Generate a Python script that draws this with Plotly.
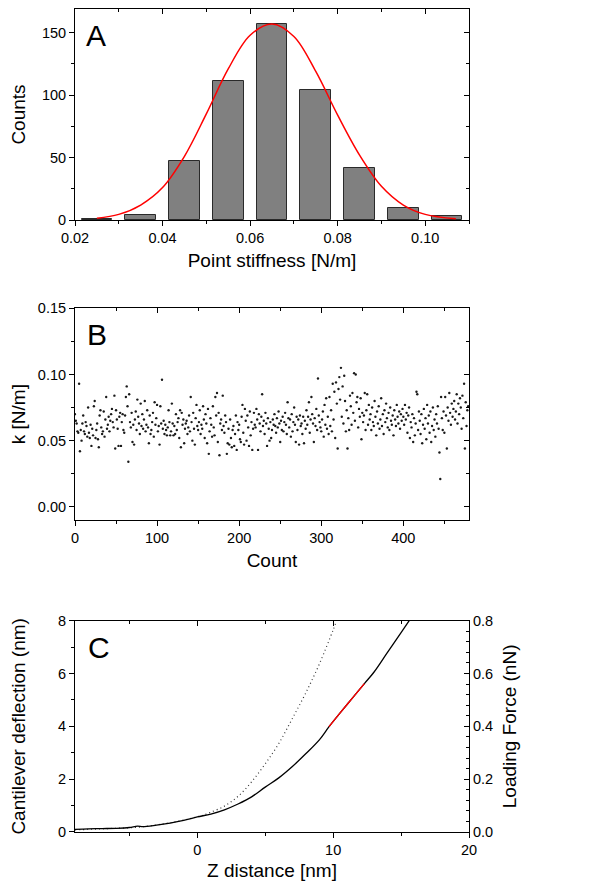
import plotly.graph_objects as go

# ---------------- Panel A: histogram of point stiffness ----------------
bin_centers = [0.025, 0.035, 0.045, 0.055, 0.065, 0.075, 0.085, 0.095, 0.105]
bin_counts = [1, 4, 47, 111, 157, 104, 42, 10, 3]
bar_width = 0.007

fit_x = [0.025, 0.030, 0.035, 0.040, 0.045, 0.050, 0.055, 0.060, 0.065,
         0.070, 0.075, 0.080, 0.085, 0.090, 0.095, 0.100, 0.107]
fit_y = [1.5, 4.5, 12, 26, 51, 85, 121, 148, 157,
         147, 119, 84, 52, 27, 12, 4.5, 1]

# ---------------- Panel B: stiffness vs count ----------------
k_values = [
    0.070, 0.065, 0.063, 0.057, 0.056, 0.093, 0.042, 0.058, 0.050, 0.063, 0.069, 0.057, 0.055, 0.064, 0.061, 0.053, 0.075, 0.056, 0.052, 0.062,
    0.046, 0.059, 0.054, 0.076, 0.080, 0.052, 0.058, 0.063, 0.051, 0.045, 0.069, 0.073, 0.060, 0.055, 0.057, 0.072, 0.053, 0.066, 0.083, 0.059,
    0.062, 0.068, 0.057, 0.065, 0.070, 0.074, 0.064, 0.060, 0.084, 0.044, 0.073, 0.066, 0.059, 0.046, 0.068, 0.071, 0.046, 0.064, 0.070, 0.058,
    0.056, 0.069, 0.083, 0.091, 0.076, 0.034, 0.085, 0.064, 0.060, 0.071, 0.049, 0.062, 0.047, 0.066, 0.072, 0.058, 0.081, 0.068, 0.063, 0.055,
    0.078, 0.061, 0.070, 0.059, 0.066, 0.080, 0.057, 0.062, 0.073, 0.060, 0.048, 0.069, 0.055, 0.058, 0.064, 0.071, 0.053, 0.079, 0.062, 0.067,
    0.077, 0.057, 0.061, 0.047, 0.076, 0.063, 0.096, 0.059, 0.065, 0.055, 0.062, 0.058, 0.054, 0.060, 0.073, 0.064, 0.054, 0.057, 0.078, 0.063,
    0.054, 0.061, 0.055, 0.070, 0.058, 0.064, 0.067, 0.052, 0.073, 0.045, 0.071, 0.062, 0.066, 0.048, 0.059, 0.063, 0.065, 0.055, 0.060, 0.069,
    0.057, 0.083, 0.064, 0.050, 0.071, 0.059, 0.047, 0.067, 0.077, 0.061, 0.058, 0.064, 0.073, 0.055, 0.062, 0.059, 0.076, 0.066, 0.052, 0.070,
    0.063, 0.048, 0.074, 0.040, 0.057, 0.067, 0.062, 0.053, 0.076, 0.060, 0.054, 0.083, 0.069, 0.086, 0.049, 0.071, 0.039, 0.063, 0.066, 0.058,
    0.084, 0.061, 0.056, 0.069, 0.064, 0.040, 0.048, 0.059, 0.047, 0.066, 0.052, 0.045, 0.058, 0.061, 0.046, 0.055, 0.069, 0.043, 0.064, 0.058,
    0.062, 0.051, 0.049, 0.068, 0.077, 0.056, 0.047, 0.074, 0.065, 0.050, 0.069, 0.060, 0.046, 0.072, 0.054, 0.064, 0.043, 0.059, 0.071, 0.062,
    0.060, 0.074, 0.066, 0.043, 0.070, 0.063, 0.057, 0.068, 0.085, 0.061, 0.065, 0.055, 0.071, 0.063, 0.046, 0.067, 0.059, 0.050, 0.064, 0.052,
    0.058, 0.066, 0.062, 0.070, 0.061, 0.056, 0.067, 0.060, 0.072, 0.063, 0.049, 0.065, 0.058, 0.068, 0.057, 0.064, 0.071, 0.062, 0.055, 0.079,
    0.067, 0.060, 0.066, 0.053, 0.070, 0.057, 0.064, 0.075, 0.062, 0.049, 0.068, 0.058, 0.066, 0.047, 0.069, 0.061, 0.063, 0.055, 0.068, 0.048,
    0.065, 0.059, 0.073, 0.062, 0.068, 0.079, 0.056, 0.066, 0.083, 0.070, 0.063, 0.049, 0.067, 0.061, 0.074, 0.058, 0.097, 0.069, 0.064, 0.060,
    0.057, 0.066, 0.072, 0.053, 0.077, 0.062, 0.082, 0.059, 0.068, 0.055, 0.083, 0.061, 0.073, 0.057, 0.093, 0.066, 0.087, 0.052, 0.094, 0.078,
    0.044, 0.089, 0.098, 0.081, 0.105, 0.068, 0.091, 0.063, 0.099, 0.080, 0.057, 0.073, 0.044, 0.067, 0.058, 0.084, 0.076, 0.062, 0.086, 0.071,
    0.101, 0.065, 0.100, 0.079, 0.083, 0.060, 0.074, 0.068, 0.082, 0.051, 0.071, 0.064, 0.069, 0.086, 0.058, 0.073, 0.085, 0.062, 0.077, 0.066,
    0.070, 0.058, 0.075, 0.064, 0.061, 0.080, 0.068, 0.054, 0.072, 0.063, 0.076, 0.059, 0.066, 0.082, 0.061, 0.070, 0.055, 0.073, 0.064, 0.078,
    0.067, 0.060, 0.071, 0.058, 0.075, 0.065, 0.062, 0.069, 0.054, 0.073, 0.066, 0.061, 0.077, 0.068, 0.063, 0.072, 0.059, 0.070, 0.065, 0.074,
    0.068, 0.062, 0.077, 0.066, 0.071, 0.056, 0.069, 0.075, 0.052, 0.064, 0.060, 0.070, 0.049, 0.067, 0.054, 0.063, 0.087, 0.085, 0.058, 0.072,
    0.065, 0.055, 0.070, 0.048, 0.062, 0.074, 0.059, 0.067, 0.051, 0.077, 0.063, 0.069, 0.056, 0.072, 0.049, 0.061, 0.075, 0.058, 0.066, 0.053,
    0.070, 0.063, 0.076, 0.059, 0.041, 0.021, 0.083, 0.067, 0.058, 0.072, 0.056, 0.083, 0.069, 0.044, 0.075, 0.065, 0.086, 0.071, 0.062, 0.078,
    0.068, 0.074, 0.080, 0.066, 0.072, 0.085, 0.063, 0.078, 0.070, 0.082, 0.075, 0.059, 0.084, 0.067, 0.093, 0.044, 0.079, 0.061, 0.073, 0.076,
]
count_index = list(range(len(k_values)))

# ---------------- Panel C: deflection curves ----------------
z_solid = [-9.0, -8.0, -7.0, -6.0, -5.0, -4.4, -4.0, -3.0, -2.0, -1.0, 0.0, 1.0, 2.0,
           3.0, 4.0, 5.0, 6.0, 7.0, 8.0, 9.0, 9.7, 10.5, 11.4, 12.3, 13.0, 14.0, 15.0, 15.6]
d_solid = [0.10, 0.12, 0.13, 0.14, 0.17, 0.22, 0.20, 0.26, 0.34, 0.44, 0.57, 0.68, 0.84,
           1.06, 1.33, 1.70, 2.05, 2.48, 2.97, 3.50, 3.99, 4.50, 5.06, 5.62, 6.05, 6.80, 7.55, 8.0]
fit_start, fit_end = 9.7, 12.3

z_dotted = [-9.0, -8.0, -7.0, -6.0, -5.0, -4.0, -3.0, -2.0, -1.0, 0.0, 0.5, 1.0, 2.0,
            3.0, 4.0, 5.0, 6.0, 7.0, 8.0, 9.0, 10.0, 10.25]
d_dotted = [0.08, 0.10, 0.12, 0.14, 0.16, 0.20, 0.27, 0.35, 0.45, 0.58, 0.65, 0.75, 0.98,
            1.35, 1.90, 2.58, 3.35, 4.30, 5.28, 6.38, 7.65, 8.0]

FONT = "Liberation Sans, Arial, Helvetica, sans-serif"
TICKFONT = dict(family=FONT, size=14.5, color="black")
TITLEFONT = dict(family=FONT, size=19, color="black")

fig = go.Figure()

# Panel A traces
fig.add_trace(go.Bar(x=bin_centers, y=bin_counts, width=bar_width,
                     marker=dict(color="#808080", line=dict(color="#2a2a2a", width=1)),
                     xaxis="x", yaxis="y", showlegend=False))
fig.add_trace(go.Scatter(x=fit_x, y=fit_y, mode="lines", line=dict(color="red", width=1.5, shape="spline"),
                         xaxis="x", yaxis="y", showlegend=False))
fig.add_trace(go.Scatter(x=[], y=[], xaxis="x4", yaxis="y4", showlegend=False, hoverinfo="skip"))

# Panel B traces
fig.add_trace(go.Scatter(x=count_index, y=k_values, mode="markers",
                         marker=dict(color="#1a1a1a", size=2.4),
                         xaxis="x2", yaxis="y2", showlegend=False))
fig.add_trace(go.Scatter(x=[], y=[], xaxis="x5", yaxis="y5", showlegend=False, hoverinfo="skip"))

# Panel C traces
fig.add_trace(go.Scatter(x=z_dotted, y=d_dotted, mode="lines",
                         line=dict(color="#333333", width=1.2, dash="1px,3px", shape="spline"),
                         xaxis="x3", yaxis="y3", showlegend=False))
fig.add_trace(go.Scatter(x=z_solid, y=d_solid, mode="lines",
                         line=dict(color="black", width=1.3, shape="spline"),
                         xaxis="x3", yaxis="y3", showlegend=False))
fit_idx = [i for i, z in enumerate(z_solid) if fit_start <= z <= fit_end]
fig.add_trace(go.Scatter(x=[z_solid[i] for i in fit_idx], y=[d_solid[i] for i in fit_idx], mode="lines",
                         line=dict(color="red", width=1.4, shape="spline"),
                         xaxis="x3", yaxis="y3", showlegend=False))
fig.add_trace(go.Scatter(x=[], y=[], xaxis="x6", yaxis="y6", showlegend=False, hoverinfo="skip"))


def axis(**kw):
    base = dict(showline=True, linecolor="black", linewidth=1, ticks="outside", ticklen=5,
                tickwidth=1, tickcolor="black", showgrid=False, zeroline=False,
                tickfont=TICKFONT, automargin=False, fixedrange=True)
    base.update(kw)
    return base


def minor(dt, direction="outside"):
    return dict(dtick=dt, ticks=direction, ticklen=3, tickwidth=1, tickcolor="black", showgrid=False)


dom_A = [0.7436, 1.0]
dom_B = [0.3791, 0.6363]
dom_C = [0.0, 0.2567]

rA_x = [0.02, 0.11]
rA_y = [0, 169]
rB_x = [0, 480]
rB_y = [-0.01, 0.15]
rC_x = [-9, 20]
rC_y = [0, 8]
rC_y2 = [0, 0.8]

# the page body adds an 8 px offset, so the figure is 8 px smaller on each side
fig.update_layout(
    width=582, height=878,
    margin=dict(l=67, r=121, t=1, b=54),
    paper_bgcolor="white", plot_bgcolor="white",
    font=dict(family=FONT, color="black"),
    bargap=0,
    # Panel A
    xaxis=axis(domain=[0, 1], anchor="y", range=rA_x, tick0=0.02, dtick=0.02, tickformat=".2f",
               minor=minor(0.01), title=dict(text="Point stiffness [N/m]", font=TITLEFONT, standoff=8)),
    yaxis=axis(domain=dom_A, anchor="x", range=rA_y, tick0=0, dtick=50, minor=minor(25),
               title=dict(text="Counts", font=TITLEFONT, standoff=12)),
    xaxis4=axis(overlaying="x", side="top", anchor="y4", range=rA_x, tick0=0.02, dtick=0.02,
                ticks="inside", showticklabels=False, minor=minor(0.01, "inside")),
    yaxis4=axis(overlaying="y", side="right", anchor="x4", range=rA_y, tick0=0, dtick=50,
                ticks="inside", showticklabels=False, minor=minor(25, "inside")),
    # Panel B
    xaxis2=axis(domain=[0, 1], anchor="y2", range=rB_x, tick0=0, dtick=100, minor=minor(50),
                title=dict(text="Count", font=TITLEFONT, standoff=8)),
    yaxis2=axis(domain=dom_B, anchor="x2", range=rB_y, tick0=0, dtick=0.05, tickformat=".2f",
                minor=minor(0.025), title=dict(text="k [N/m]", font=TITLEFONT, standoff=9)),
    xaxis5=axis(overlaying="x2", side="top", anchor="y5", range=rB_x, tick0=0, dtick=100,
                ticks="inside", showticklabels=False, minor=minor(50, "inside")),
    yaxis5=axis(overlaying="y2", side="right", anchor="x5", range=rB_y, tick0=0, dtick=0.05,
                ticks="inside", showticklabels=False, minor=minor(0.025, "inside")),
    # Panel C
    xaxis3=axis(domain=[0, 1], anchor="y3", range=rC_x, tick0=0, dtick=10, minor=minor(5),
                title=dict(text="Z distance [nm]", font=TITLEFONT, standoff=6)),
    yaxis3=axis(domain=dom_C, anchor="x3", range=rC_y, tick0=0, dtick=2, minor=minor(1),
                title=dict(text="Cantilever deflection (nm)", font=TITLEFONT, standoff=30)),
    xaxis6=axis(overlaying="x3", side="top", anchor="y6", range=rC_x, tick0=0, dtick=10,
                ticks="inside", showticklabels=False, minor=minor(5, "inside")),
    yaxis6=axis(overlaying="y3", side="right", anchor="x6", range=rC_y2, tick0=0, dtick=0.2,
                tickformat=".1f", ticks="inside", minor=minor(0.04, "inside"),
                title=dict(text="Loading Force (nN)", font=TITLEFONT, standoff=10)),
)

for letter, yc, xl in [("A", 0.9674, 0.0228), ("B", 0.6049, 0.0254), ("C", 0.2236, 0.0279)]:
    fig.add_annotation(text=letter, xref="paper", yref="paper", x=xl, y=yc,
                       xanchor="left", yanchor="middle", showarrow=False,
                       font=dict(family=FONT, size=30, color="black"))

fig.write_html("out.html")
